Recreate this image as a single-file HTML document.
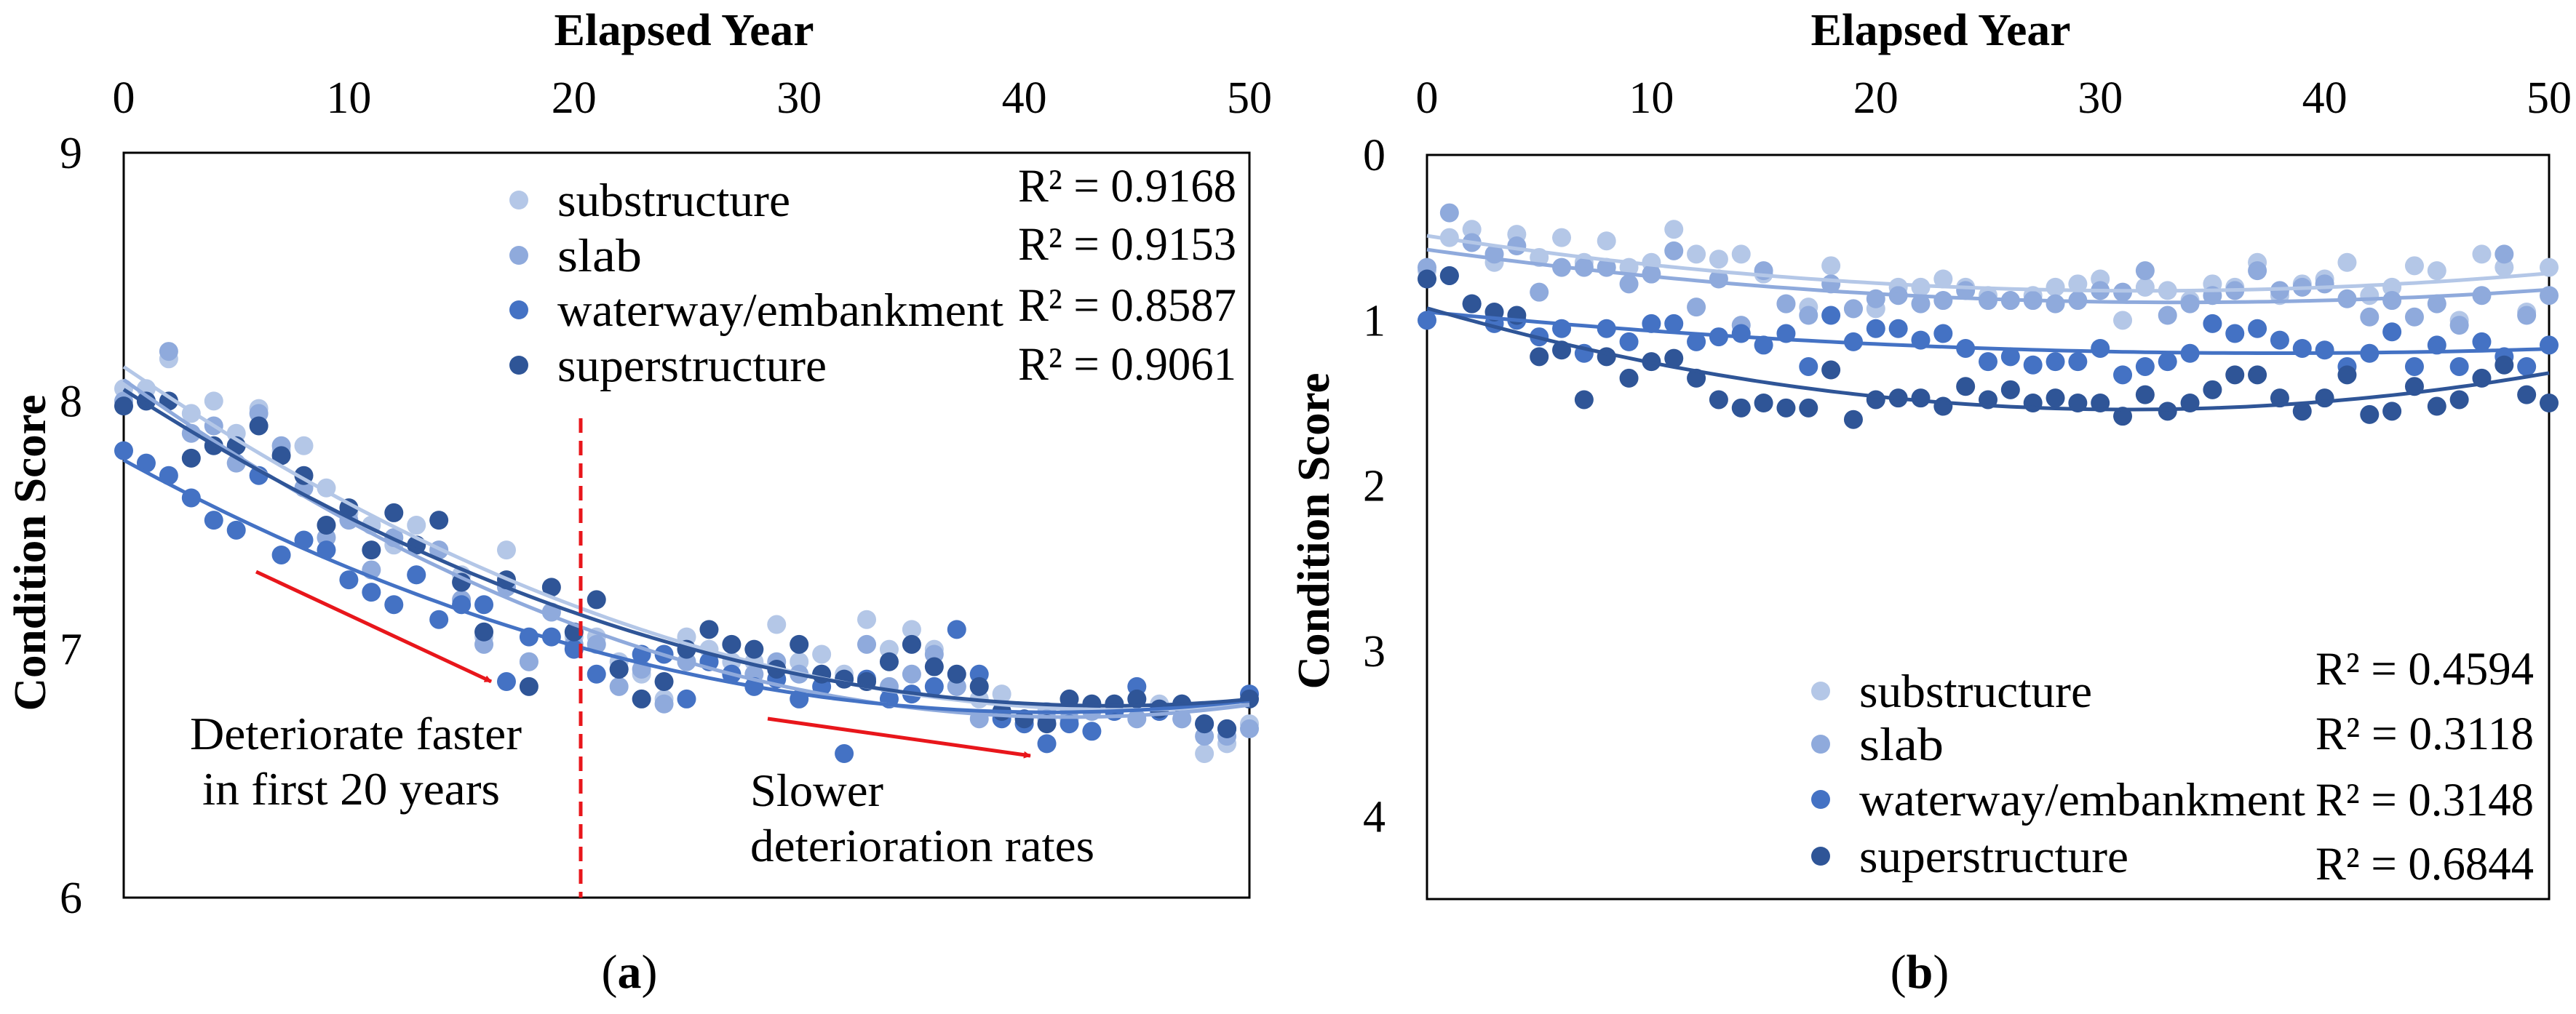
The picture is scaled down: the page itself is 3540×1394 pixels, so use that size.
<!DOCTYPE html>
<html><head><meta charset="utf-8">
<style>
html,body{margin:0;padding:0;background:#fff;}
svg, svg text{font-family:"Times New Roman","Liberation Serif","DejaVu Serif",serif;}
</style></head>
<body>
<svg id="fig" width="3540" height="1389" viewBox="0 0 3540 1389" xmlns="http://www.w3.org/2000/svg">
<defs>
<marker id="arr" markerWidth="10" markerHeight="10" refX="9" refY="5" orient="auto" markerUnits="userSpaceOnUse" viewBox="0 0 10 10">
<path d="M0,0 L10,5 L0,10 z" fill="#e8161b"/>
</marker>
</defs>
<g id="chartA"></g>
<g id="chartB"></g>

<g>
<line x1="798" y1="575" x2="798" y2="1234" stroke="#e8161b" stroke-width="5" stroke-dasharray="20,11"/>
<line x1="352" y1="786" x2="675" y2="937" stroke="#e8161b" stroke-width="5" marker-end="url(#arr)"/>
<line x1="1055" y1="988" x2="1416" y2="1039" stroke="#e8161b" stroke-width="5" marker-end="url(#arr)"/>
<text x="261" y="1030" font-size="64" textLength="456" lengthAdjust="spacingAndGlyphs">Deteriorate faster</text>
<text x="278" y="1106" font-size="64" textLength="409" lengthAdjust="spacingAndGlyphs">in first 20 years</text>
<text x="1031" y="1108" font-size="64" textLength="183" lengthAdjust="spacingAndGlyphs">Slower</text>
<text x="1031" y="1184" font-size="64" textLength="473" lengthAdjust="spacingAndGlyphs">deterioration rates</text>
</g>
<text x="865" y="1358" font-size="66" text-anchor="middle">(<tspan font-weight="bold">a</tspan>)</text>
<text x="2638" y="1358" font-size="66" text-anchor="middle">(<tspan font-weight="bold">b</tspan>)</text>
</svg>
<script>
const years = Array.from({length:51},(_,i)=>i);
const seriesNames = ["substructure","slab","waterway/embankment","superstructure"];
const seriesColors = ["#b4c7e7","#8faadc","#4472c4","#2f5597"];
const xTicks = [0,10,20,30,40,50];
const yTicksA = [6,7,8,9];
const yTicksB = [0,1,2,3,4];
const r2A = ["R² = 0.9168","R² = 0.9153","R² = 0.8587","R² = 0.9061"];
const r2B = ["R² = 0.4594","R² = 0.3118","R² = 0.3148","R² = 0.6844"];

const aSub = [8.05,8.05,8.17,7.95,8.0,7.87,7.97,7.8,7.82,7.65,7.55,7.5,7.42,7.5,7.4,7.3,7.05,7.4,6.95,7.15,7.05,7.05,6.95,6.9,6.8,7.05,7.0,6.95,6.95,7.1,6.95,6.98,6.9,7.12,7.0,7.08,7.0,6.85,6.8,6.82,6.72,6.75,6.75,6.78,6.78,6.8,6.78,6.72,6.58,6.62,6.7];
const aSlab = [8.0,8.0,8.2,7.87,7.9,7.75,7.95,7.82,7.65,7.45,7.52,7.32,7.45,7.3,7.4,7.2,7.02,7.25,6.95,7.15,7.02,7.02,6.85,6.92,6.78,6.95,6.95,6.9,6.9,6.95,6.9,6.9,6.88,7.02,6.85,6.9,6.98,6.85,6.72,6.75,6.7,6.72,6.72,6.75,6.75,6.72,6.75,6.72,6.65,6.65,6.68];
const aWater = [7.8,7.75,7.7,7.61,7.52,7.48,7.7,7.38,7.44,7.4,7.28,7.23,7.18,7.3,7.12,7.18,7.18,6.87,7.05,7.05,7.0,6.9,6.92,6.98,6.98,6.8,6.95,6.9,6.85,6.88,6.8,6.85,6.58,6.88,6.8,6.82,6.85,7.08,6.9,6.72,6.7,6.62,6.7,6.67,6.75,6.85,6.75,6.78,6.7,6.68,6.82];
const aSuper = [7.98,8.0,8.0,7.77,7.82,7.82,7.9,7.78,7.7,7.5,7.57,7.4,7.55,7.42,7.52,7.27,7.07,7.28,6.85,7.25,7.07,7.2,6.92,6.8,6.87,7.0,7.08,7.02,7.0,6.92,7.02,6.9,6.88,6.87,6.95,7.02,6.93,6.9,6.85,6.75,6.72,6.7,6.8,6.78,6.78,6.8,6.76,6.78,6.7,6.68,6.8];

const bSub = [0.7,0.5,0.45,0.65,0.48,0.62,0.5,0.65,0.52,0.68,0.65,0.45,0.6,0.63,0.6,0.72,0.9,0.92,0.67,0.93,0.93,0.8,0.8,0.75,0.8,0.85,0.88,0.85,0.8,0.78,0.75,1.0,0.8,0.82,0.88,0.78,0.8,0.65,0.85,0.78,0.75,0.65,0.85,0.8,0.67,0.7,1.0,0.6,0.68,0.95,0.68];
const bSlab = [0.68,0.35,0.53,0.6,0.55,0.83,0.68,0.68,0.68,0.78,0.72,0.58,0.92,0.75,1.03,0.7,0.9,0.97,0.78,0.93,0.87,0.85,0.9,0.88,0.82,0.88,0.88,0.88,0.9,0.88,0.82,0.83,0.7,0.97,0.9,0.85,0.82,0.7,0.82,0.8,0.78,0.87,0.98,0.88,0.98,0.9,1.03,0.85,0.6,0.97,0.85];
const bWater = [1.0,0.73,0.9,1.02,1.0,1.1,1.05,1.2,1.05,1.13,1.02,1.02,1.13,1.1,1.08,1.15,1.08,1.28,0.97,1.13,1.05,1.05,1.12,1.08,1.17,1.25,1.22,1.27,1.25,1.25,1.17,1.33,1.28,1.25,1.2,1.02,1.08,1.05,1.12,1.17,1.18,1.28,1.2,1.07,1.28,1.15,1.28,1.13,1.22,1.28,1.15];
const bSuper = [0.75,0.73,0.9,0.95,0.97,1.22,1.18,1.48,1.22,1.35,1.25,1.23,1.35,1.48,1.53,1.5,1.53,1.53,1.3,1.6,1.48,1.47,1.47,1.52,1.4,1.48,1.42,1.5,1.47,1.5,1.5,1.58,1.45,1.55,1.5,1.42,1.33,1.33,1.47,1.55,1.47,1.33,1.57,1.55,1.4,1.52,1.48,1.35,1.27,1.45,1.5];

const NS="http://www.w3.org/2000/svg";
function mk(parent,tag,attrs,text){const e=document.createElementNS(NS,tag);for(const k in attrs)e.setAttribute(k,attrs[k]);if(text!==undefined)e.textContent=text;parent.appendChild(e);return e;}

function quadFit(xs,ys){
  let n=xs.length,s=[0,0,0,0,0],t=[0,0,0];
  for(let i=0;i<n;i++){const x=xs[i],y=ys[i];for(let p=0;p<5;p++)s[p]+=Math.pow(x,p);for(let p=0;p<3;p++)t[p]+=y*Math.pow(x,p);}
  const M=[[s[0],s[1],s[2],t[0]],[s[1],s[2],s[3],t[1]],[s[2],s[3],s[4],t[2]]];
  for(let i=0;i<3;i++){for(let j=i+1;j<3;j++){const f=M[j][i]/M[i][i];for(let k=i;k<4;k++)M[j][k]-=f*M[i][k];}}
  const c=[0,0,0];for(let i=2;i>=0;i--){let v=M[i][3];for(let k=i+1;k<3;k++)v-=M[i][k]*c[k];c[i]=v/M[i][i];}
  return c;
}

function drawChart(g,cfg){
  const X=v=>cfg.x0+(v-0)/(50-0)*(cfg.x1-cfg.x0);
  const Y=v=>cfg.yTop+(v-cfg.vTop)/(cfg.vBot-cfg.vTop)*(cfg.yBot-cfg.yTop);
  const frame=mk(g,'rect',{x:cfg.x0,y:cfg.yTop,width:cfg.x1-cfg.x0,height:cfg.yBot-cfg.yTop,fill:'none',stroke:'#000','stroke-width':3});
  
  
  xTicks.forEach(t=>{
    const e=mk(g,'text',{x:X(t),y:155,'font-size':62,'text-anchor':'middle'},String(t));
    
    
  });
  cfg.yTicks.forEach(t=>{
    const e=mk(g,'text',{x:cfg.yLabX,y:Y(t)+21,'font-size':62,'text-anchor':'end'},String(t));
    
    
  });
  const xt=mk(g,'text',{x:cfg.titleX,y:62,'font-size':62,'font-weight':'bold','text-anchor':'middle',textLength:357,lengthAdjust:'spacingAndGlyphs'},'Elapsed Year');
  
  
  const yt=mk(g,'text',{x:0,y:0,'font-size':62,'font-weight':'bold','text-anchor':'middle',transform:`translate(${cfg.yTitleX},${cfg.yTitleY}) rotate(-90)`,textLength:435,lengthAdjust:'spacingAndGlyphs'},'Condition Score');
  
  
  cfg.series.forEach((ys,si)=>{
    const sg=mk(g,'g',{});
    
    
    years.forEach((yr,i)=>{
      const c=mk(sg,'circle',{cx:X(yr),cy:Y(ys[i]),r:13,fill:seriesColors[si]});
      
      
    });
  });
  cfg.series.forEach((ys,si)=>{
    const c=quadFit(years,ys);let d='';
    for(let x=0;x<=50;x+=0.5){const v=c[0]+c[1]*x+c[2]*x*x;d+=(x===0?'M':'L')+X(x).toFixed(1)+','+Y(v).toFixed(1);}
    const p=mk(g,'path',{d:d,fill:'none',stroke:seriesColors[si],'stroke-width':5});
    
    
  });
  seriesNames.forEach((nm,i)=>{
    const dot=mk(g,'circle',{cx:cfg.legX,cy:cfg.legY[i],r:13,fill:seriesColors[i]});
    
    
    const widths=[320,116,613,370];
    const t=mk(g,'text',{x:cfg.legX+53,y:cfg.legY[i]+22,'font-size':65,textLength:widths[i],lengthAdjust:'spacingAndGlyphs'},nm);
    
    
    const r=mk(g,'text',{x:cfg.r2X,y:cfg.r2Y[i],'font-size':65,'text-anchor':'end',textLength:300,lengthAdjust:'spacingAndGlyphs'},cfg.r2[i]);
    
    
  });
}

drawChart(document.getElementById('chartA'),{
  x0:170,x1:1717,yTop:210,yBot:1234,vTop:9,vBot:6,yTicks:yTicksA,yLabX:113,
  titleX:940,yTitleX:62,yTitleY:760,series:[aSub,aSlab,aWater,aSuper],
  legX:713,legY:[275,351,426,502],r2X:1699,r2Y:[277,357,441,522],r2:r2A
});
drawChart(document.getElementById('chartB'),{
  x0:1961,x1:3503,yTop:213,yBot:1236,vTop:0,vBot:4.5,yTicks:yTicksB,yLabX:1904,
  titleX:2667,yTitleX:1826,yTitleY:730,series:[bSub,bSlab,bWater,bSuper],
  legX:2502,legY:[950,1023,1099,1177],r2X:3482,r2Y:[941,1030,1121,1209],r2:r2B
});
</script>
</body></html>
